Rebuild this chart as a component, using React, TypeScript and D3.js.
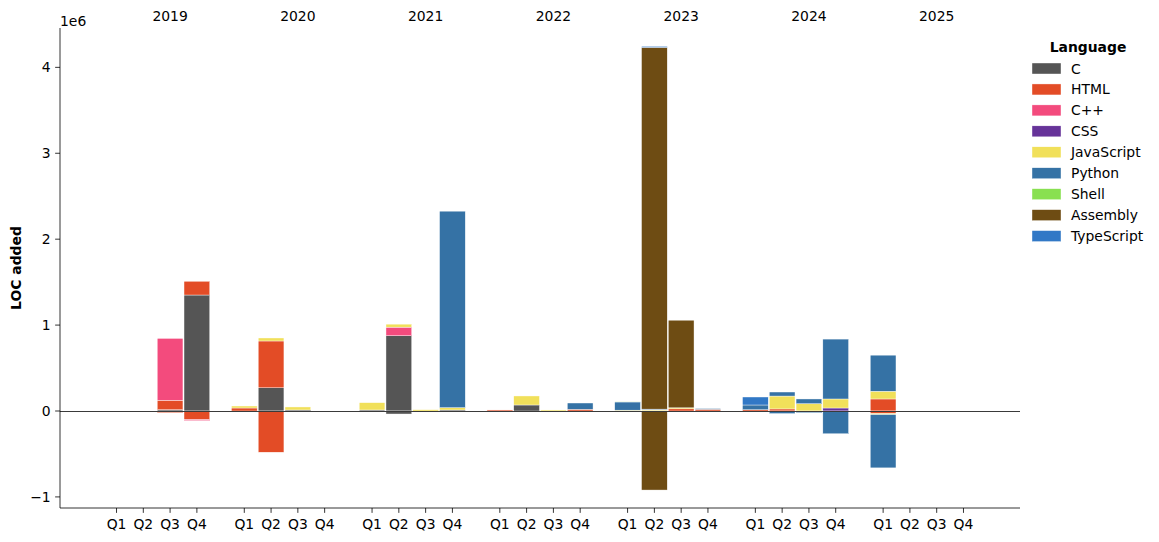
import React from "react";
import * as d3 from "d3";

const years = ["2019", "2020", "2021", "2022", "2023", "2024", "2025"];
const quarters = ["Q1", "Q2", "Q3", "Q4"];
const languages = ["C", "HTML", "C++", "CSS", "JavaScript", "Python", "Shell", "Assembly", "TypeScript"];
const colors = ["#555555", "#e34c26", "#f34b7d", "#663399", "#f1e05a", "#3572A5", "#89e051", "#6E4C13", "#3178c6"];

// LOC added (positive) per quarter, 2019Q1 .. 2025Q4
const cAdded = [0, 0, 15000, 1350000, 0, 270000, 12000, 0, 12000, 876000, 0, 12000, 0, 70000, 0, 0, 0, 0, 0, 0, 0, 0, 0, 0, 0, 0, 0, 0];
const htmlAdded = [0, 0, 110000, 160000, 35000, 545000, 0, 0, 0, 0, 0, 0, 12000, 0, 0, 20000, 0, 0, 25000, 20000, 15000, 24000, 0, 0, 140000, 0, 0, 0];
const cppAdded = [0, 0, 720000, 0, 0, 0, 0, 0, 0, 100000, 0, 0, 0, 0, 0, 0, 0, 0, 0, 0, 0, 0, 0, 0, 0, 0, 0, 0];
const cssAdded = [0, 0, 0, 0, 0, 0, 0, 0, 0, 0, 0, 0, 0, 0, 0, 0, 0, 0, 0, 0, 0, 0, 0, 35000, 0, 0, 0, 0];
const jsAdded = [0, 0, 0, 0, 23000, 35000, 35000, 0, 85000, 35000, 15000, 27000, 0, 105000, 12000, 0, 10000, 12000, 12000, 0, 0, 150000, 85000, 105000, 90000, 0, 0, 0];
const pyAdded = [0, 0, 0, 0, 0, 0, 0, 0, 0, 0, 0, 2287000, 0, 0, 0, 73000, 95000, 10000, 0, 8000, 55000, 47000, 55000, 697000, 420000, 0, 0, 0];
const shellAdded = [0, 0, 0, 0, 0, 0, 0, 0, 0, 0, 0, 0, 0, 0, 0, 0, 3000, 0, 0, 0, 0, 0, 0, 0, 0, 0, 0, 0];
const asmAdded = [0, 0, 0, 0, 0, 0, 0, 0, 0, 0, 0, 0, 0, 0, 0, 0, 0, 4210000, 1020000, 0, 0, 0, 0, 0, 0, 0, 0, 0];
const tsAdded = [0, 0, 0, 0, 0, 0, 0, 0, 0, 0, 0, 0, 0, 0, 0, 0, 0, 12000, 0, 0, 93000, 0, 0, 0, 0, 0, 0, 0];

// Net negative quarters
const cRemoved = [0, 0, 0, 0, 0, 0, 0, 0, 0, -35000, 0, 0, 0, 0, 0, 0, 0, 0, 0, 0, 0, 0, 0, 0, 0, 0, 0, 0];
const htmlRemoved = [0, 0, -20000, -100000, 0, -480000, 0, 0, 0, 0, 0, 0, 0, 0, 0, 0, 0, 0, 0, 0, 0, 0, 0, 0, -30000, 0, 0, 0];
const cppRemoved = [0, 0, 0, -12000, 0, 0, 0, 0, 0, 0, 0, 0, 0, 0, 0, 0, 0, 0, 0, 0, 0, 0, 0, 0, 0, 0, 0, 0];
const cssRemoved = new Array(28).fill(0);
const jsRemoved = [0, 0, 0, 0, 0, 0, 0, 0, 0, 0, 0, 0, 0, 0, 0, 0, 0, 0, 0, 0, 0, 0, 0, 0, -12000, 0, 0, 0];
const pyRemoved = [0, 0, 0, 0, 0, 0, 0, 0, 0, 0, 0, 0, 0, 0, 0, 0, 0, 0, 0, 0, 0, -30000, -20000, -265000, -620000, 0, 0, 0];
const shellRemoved = new Array(28).fill(0);
const asmRemoved = [0, 0, 0, 0, 0, 0, 0, 0, 0, 0, 0, 0, 0, 0, 0, 0, 0, -920000, 0, 0, 0, 0, 0, 0, 0, 0, 0, 0];
const tsRemoved = new Array(28).fill(0);

const yTicks = [-1, 0, 1, 2, 3, 4];

const addedSeries = [cAdded, htmlAdded, cppAdded, cssAdded, jsAdded, pyAdded, shellAdded, asmAdded, tsAdded];
const removedSeries = [cRemoved, htmlRemoved, cppRemoved, cssRemoved, jsRemoved, pyRemoved, shellRemoved, asmRemoved, tsRemoved];

const GAP = 0.77;
const BARW = 0.96;
const FONT = "DejaVu Sans, sans-serif";

export default function App() {
  const W = 1159, H = 542;
  const left = 60, right = 1020, top = 28, bottom = 508;
  const pos = (i: number) => Math.floor(i / 4) * (4 + GAP) + (i % 4);
  const maxPos = pos(27);
  const pad = 2.11;
  const x = d3.scaleLinear().domain([-pad, maxPos + pad]).range([left, right]);
  const y = d3.scaleLinear().domain([-1.129e6, 4.458e6]).range([bottom, top]);
  const unit = x(1) - x(0);
  const bw = BARW * unit;
  const zeroY = Math.round(y(0)) + 0.5;

  const rects: JSX.Element[] = [];
  for (let i = 0; i < 28; i++) {
    let posBase = 0, negBase = 0;
    languages.forEach((lang, li) => {
      const v = addedSeries[li][i];
      if (v > 0) {
        const y0 = y(posBase), y1 = y(posBase + v);
        rects.push(<rect key={`p${i}-${li}`} x={x(pos(i)) - bw / 2} y={y1} width={bw} height={y0 - y1}
          fill={colors[li]} stroke="#fff" strokeWidth={0.4} />);
        posBase += v;
      }
      const n = removedSeries[li][i];
      if (n < 0) {
        const y0 = y(negBase), y1 = y(negBase + n);
        rects.push(<rect key={`n${i}-${li}`} x={x(pos(i)) - bw / 2} y={y0} width={bw} height={y1 - y0}
          fill={colors[li]} stroke="#fff" strokeWidth={0.4} />);
        negBase += n;
      }
    });
  }

  const tickLen = 4.86;
  return (
    <svg width={W} height={H} style={{ display: "block", position: "absolute", left: 0, top: 0 }} fontFamily={FONT}>
      <rect width={W} height={H} fill="#fff" />
      {rects}
      <line x1={left} x2={right} y1={zeroY} y2={zeroY} stroke="#3a3a3a" strokeWidth={1} />
      {/* spines */}
      <line x1={left} x2={left} y1={top} y2={bottom} stroke="#000" strokeWidth={0.8} />
      <line x1={left} x2={right} y1={bottom} y2={bottom} stroke="#000" strokeWidth={0.8} />
      {/* y ticks */}
      {yTicks.map((t) => (
        <g key={`yt${t}`}>
          <line x1={left - tickLen} x2={left} y1={y(t * 1e6)} y2={y(t * 1e6)} stroke="#000" strokeWidth={0.8} />
          <text x={left - tickLen - 4.5} y={y(t * 1e6)} dy="0.36em" textAnchor="end" fontSize={13.9}>
            {t < 0 ? "\u2212" + Math.abs(t) : String(t)}
          </text>
        </g>
      ))}
      <text x={left} y={26} fontSize={13.9}>1e6</text>
      {/* x ticks */}
      {d3.range(28).map((i) => (
        <g key={`xt${i}`}>
          <line x1={x(pos(i))} x2={x(pos(i))} y1={bottom} y2={bottom + tickLen} stroke="#000" strokeWidth={0.8} />
          <text x={x(pos(i))} y={529} textAnchor="middle" fontSize={13.9}>{quarters[i % 4]}</text>
        </g>
      ))}
      {/* year labels */}
      {years.map((yr, yi) => (
        <text key={yr} x={x(pos(yi * 4 + 2))} y={21} textAnchor="middle" fontSize={13.9}>{yr}</text>
      ))}
      {/* y label */}
      <text transform={`translate(21,${(top + bottom) / 2}) rotate(-90)`} textAnchor="middle" fontSize={13.9} fontWeight="bold">LOC added</text>
      {/* legend */}
      <text x={1088} y={52} textAnchor="middle" fontSize={13.9} fontWeight="bold">Language</text>
      {languages.map((lang, li) => (
        <g key={lang}>
          <rect x={1032} y={63 + li * 20.95} width={29} height={11} fill={colors[li]} stroke="#fff" strokeWidth={0.4} />
          <text x={1071} y={63 + li * 20.95 + 5.5} dy="0.36em" fontSize={13.9}>{lang}</text>
        </g>
      ))}
    </svg>
  );
}
